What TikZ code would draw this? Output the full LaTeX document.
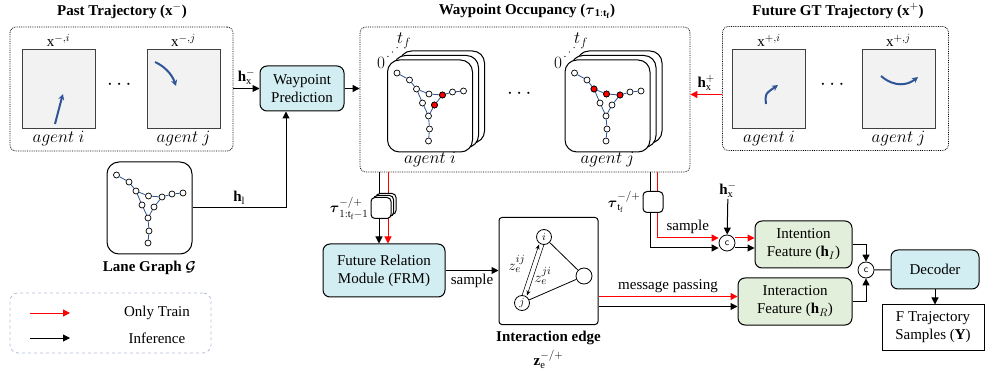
\documentclass[tikz,border=0pt]{standalone}
\usepackage{amsmath}
\usepackage{amssymb}
\usepackage{fontspec}
\setmainfont{Liberation Serif}
\usepackage{tikz}
\usetikzlibrary{arrows.meta,positioning,calc}

\definecolor{wpblue}{HTML}{D3EEF2}
\definecolor{featgreen}{HTML}{E2EFDA}
\definecolor{boxgray}{HTML}{F2F2F2}
\definecolor{laneblue}{HTML}{2F5597}
\definecolor{legline}{HTML}{B0BED8}

% waypoint graph: #1 name prefix, #2 centre
\newcommand{\lanegraph}[2]{%
  \foreach \n/\dx/\dy in {1/-33/-33, 2/-20.5/-26, 3/-13.5/-17, 4/-1/-12, 5/12.5/-11, 6/22.5/-14,
                          7/33.5/-15, 8/-7.5/-3, 9/4.5/-1, 10/-1.5/10, 11/-0.5/23, 12/-1.5/35}
    \node[wpt] (#1\n) at ($#2+(\dx,\dy)$) {};
  \foreach \a/\b in {1/2, 2/3, 3/4, 4/5, 5/6, 6/7, 3/8, 8/10, 5/9, 9/10, 10/11, 11/12}
    \draw[lnk] (#1\a) -- (#1\b);
}

\begin{document}
\begin{tikzpicture}[x=1pt, y=-1pt,
  font=\fontsize{15}{18}\selectfont,
  panel/.style={draw, densely dotted, rounded corners=6pt, line width=0.8pt, inner sep=0pt},
  sq/.style={draw=black!75, fill=boxgray, line width=1pt, minimum width=73pt, minimum height=79pt, inner sep=0pt},
  proc/.style={draw, line width=1pt, rounded corners=7pt, fill=wpblue, align=center, inner sep=0pt},
  feat/.style={proc, fill=featgreen},
  card/.style={draw, line width=1pt, rounded corners=12pt, fill=white, minimum width=85pt, minimum height=92pt, inner sep=0pt},
  mini/.style={draw, line width=1pt, rounded corners=4pt, fill=white, minimum width=20pt, minimum height=21pt, inner sep=0pt},
  cat/.style={draw, circle, fill=white, line width=0.8pt, minimum size=16pt, inner sep=0pt, font=\sffamily\fontsize{10}{10}\selectfont},
  agt/.style={draw, circle, line width=0.8pt, minimum size=15pt, inner sep=0pt, font=\fontsize{11}{11}\selectfont},
  wpt/.style={draw, circle, fill=white, line width=0.7pt, minimum size=6pt, inner sep=0pt},
  rwpt/.style={wpt, fill=red},
  lnk/.style={draw=laneblue, line width=0.8pt},
  traj/.style={draw=laneblue, line width=2pt, -{Stealth[length=6pt,width=6pt]}},
  arr/.style={-{Triangle[length=7pt,width=7pt]}, line width=1pt},
  rarr/.style={arr, red, every node/.append style={text=black}},
  thinarr/.style={-{Stealth[length=5pt,width=4pt]}, line width=0.6pt},
  ttl/.style={font=\fontsize{15}{18}\selectfont\bfseries},
  lab/.style={align=center, inner sep=1pt},
  alab/.style={lab, font=\fontsize{17}{18}\selectfont},
  dotrow/.style={font=\fontsize{22}{22}\selectfont}
]
\useasboundingbox (0,0) rectangle (985,371);

\node[ttl] (pastT) at (122,11) {Past Trajectory ($\mathbf{x}^{-}$)};
\node[ttl] (occT) at (527,11) {Waypoint Occupancy ($\boldsymbol{\tau}_{\mathbf{1:t_f}}$)};
\node[ttl] (futT) at (838,11) {Future GT Trajectory ($\mathbf{x}^{+}$)};

\node[panel, minimum width=223pt, minimum height=124pt] (past) at (121.5,89) {};
\node[panel, minimum width=330pt, minimum height=145pt] (occ) at (525,99.5) {};
\node[panel, minimum width=226pt, minimum height=124pt] (fut) at (835.5,88.5) {};

\node[sq] (pi) at (58.5,89.5) {};
\node[sq] (pj) at (183.5,89.5) {};
\node[sq] (fi) at (769,89.5) {};
\node[sq] (fj) at (898.5,89.5) {};
\node[lab, above=2pt of pi] (piT) {$\mathrm{x}^{-,i}$};
\node[lab, above=2pt of pj] (pjT) {$\mathrm{x}^{-,j}$};
\node[lab, above=2pt of fi] (fiT) {$\mathrm{x}^{+,i}$};
\node[lab, above=2pt of fj] (fjT) {$\mathrm{x}^{+,j}$};
\node[alab, below=0pt of pi] (piA) {$agent\ i$};
\node[alab, below=0pt of pj] (pjA) {$agent\ j$};
\node[alab, below=0pt of fi] (fiA) {$agent\ i$};
\node[alab, below=0pt of fj] (fjA) {$agent\ j$};
\node[dotrow] (pdots) at (121,85) {$\cdots$};
\node[dotrow] (fdots) at (834,85) {$\cdots$};
\node[dotrow] (odots) at (521,94) {$\cdots$};

\draw[traj] (55,124) .. controls (58,110) .. (63,94);
\draw[traj] (155,62) .. controls (164,66) and (172,74) .. (176,86);
\draw[traj] (766,104) .. controls (765,94) .. (778,85);
\draw[traj] (881,76) .. controls (895,88) and (908,85) .. (918,77);

\foreach \k in {2,1} \node[card] (oi\k) at ({430+6*\k},{106-4.5*\k}) {};
\node[card] (oi) at (430,106) {};
\foreach \k in {2,1} \node[card] (oj\k) at ({607.5+6*\k},{106-4.5*\k}) {};
\node[card] (oj) at (607.5,106) {};
\lanegraph{gi}{(430,106)}
\lanegraph{gj}{(607.5,106)}
\foreach \n in {5,9} \node[rwpt] (gir\n) at (gi\n) {};
\foreach \n in {3,4,5} \node[rwpt] (gjr\n) at (gj\n) {};
\node[alab] (oi0) at (381,63) {$0$};
\node[alab] (oitf) at (404,41) {$t_f$};
\node[alab] (oj0) at (558,63) {$0$};
\node[alab] (ojtf) at (581,41) {$t_f$};
\foreach \t in {0.3,0.5,0.7} {
  \fill ($(oi0)!\t!(oitf)$) circle (0.7);
  \fill ($(oj0)!\t!(ojtf)$) circle (0.7);
}
\node[alab] (oiA) at (430,160) {$agent\ i$};
\node[alab] (ojA) at (607.5,160) {$agent\ j$};

\node[proc, minimum width=84pt, minimum height=45pt] (wp) at (302,88.5) {Waypoint\\Prediction};
\node[card] (lane) at (149.5,208) {};
\lanegraph{gl}{(149.5,208)}
\node[ttl, below=3pt of lane] (laneT) {Lane Graph $\boldsymbol{\mathcal{G}}$};

\draw[arr] (past.east |- wp) -- (wp) node[midway, above] {$\mathbf{h}_{\mathrm{x}}^{-}$};
\draw[arr] (wp) -- (wp -| occ.west);
\draw[arr] (lane.east) -| ([xshift=-16pt]wp.south) node[pos=0.25, above] {$\mathbf{h}_{\mathrm{l}}$};
\draw[rarr] ([yshift=-6pt]fut.west) -- ([yshift=-6pt]fut.west -| occ.east) node[midway, above] {$\mathbf{h}_{\mathrm{x}}^{+}$};

\node[proc, minimum width=122pt, minimum height=53pt] (frm) at (384,270.5) {Future Relation\\Module (FRM)};
\coordinate (ql) at (379,0);
\coordinate (qr) at (388,0);
\draw[arr] (occ.south -| ql) -- (frm.north -| ql);
\draw[rarr] (occ.south -| qr) -- (frm.north -| qr);
\foreach \k in {2,1} \node[mini] (taul\k) at ({381+2.5*\k},{208-2*\k}) {};
\node[mini] (taul) at (381,208) {};
\node[lab, left=1pt of taul] (taulT) {$\boldsymbol{\tau}^{-/+}_{1:\mathrm{t_f}-1}$};

\node[draw, line width=1pt, rounded corners=3pt, minimum width=99pt, minimum height=107pt] (iedge) at (548.5,271) {};
\node[agt] (ni) at (544,237) {$i$};
\node[agt] (nj) at (522,303) {$j$};
\node[agt, minimum size=16pt] (nk) at (584,276) {};
\draw[line width=0.8pt] (ni) -- (nk);
\draw[line width=0.8pt] (nj) -- (nk);
\draw[thinarr, transform canvas={xshift=-2.5pt}] (nj) -- (ni);
\draw[thinarr, transform canvas={xshift=2.5pt}] (ni) -- (nj);
\node[lab] (zij) at (517,264) {$z_e^{ij}$};
\node[lab] (zji) at (543,276) {$z_e^{ji}$};
\node[ttl, below=3pt of iedge] (ieT) {Interaction edge};
\node[lab, below=0pt of ieT] (zeT) {$\mathbf{z}_{\mathrm{e}}^{-/+}$};
\draw[arr] (frm) -- (frm -| iedge.west) node[midway, below] {sample};

\node[cat] (cat1) at (727,243) {c};
\node[lab] (hxm) at (728,190) {$\mathbf{h}_{\mathrm{x}}^{-}$};
\node[feat, minimum width=97pt, minimum height=47pt] (intent) at (803.5,244.5) {Intention\\Feature ($\mathbf{h}_{I}$)};
\node[feat, minimum width=114pt, minimum height=47pt] (ifeat) at (795,301.5) {Interaction\\Feature ($\mathbf{h}_{R}$)};
\node[cat] (cat2) at (866,270) {c};
\node[proc, minimum width=88pt, minimum height=39pt] (dec) at (935,269.5) {Decoder};
\node[draw, line width=1pt, fill=white, align=center, minimum width=102pt, minimum height=45pt, inner sep=0pt] (ftraj) at (933,327.5) {F Trajectory\\Samples ($\mathbf{Y}$)};

\coordinate (pb) at (650,0);
\coordinate (pr) at (657,0);
\draw[rarr] (occ.south -| pr) |- ([yshift=5pt]cat1.west) node[pos=0.75, above] {sample};
\draw[arr] (occ.south -| pb) |- ([yshift=-5pt]cat1.west);
\node[mini] (taur) at (653,202) {};
\node[lab, left=1pt of taur] (taurT) {$\boldsymbol{\tau}^{-/+}_{\mathrm{t_f}}$};

\draw[arr] (hxm) -- (cat1);
\draw[rarr] ([yshift=5pt]cat1.east) -- ([yshift=5pt]cat1.east -| intent.west);
\draw[arr] ([yshift=-5pt]cat1.east) -- ([yshift=-5pt]cat1.east -| intent.west);
\draw[rarr] ([yshift=5pt]ifeat.west -| iedge.east) -- ([yshift=5pt]ifeat.west) node[midway, above] {message passing};
\draw[arr] ([yshift=-5pt]ifeat.west -| iedge.east) -- ([yshift=-5pt]ifeat.west);
\draw[arr] (intent.east) -| (cat2.north);
\draw[arr] (ifeat.east) -| (cat2.south);
\draw[line width=1pt] (cat2) -- (dec);
\draw[arr] (dec) -- (dec |- ftraj.north);

\node[draw=legline, dashed, rounded corners=8pt, line width=0.8pt, minimum width=201pt, minimum height=60pt] (leg) at (110.5,323) {};
\coordinate (la1) at (30,313);
\coordinate (la2) at (70,313);
\coordinate (lb1) at (30,338);
\coordinate (lb2) at (70,338);
\draw[rarr] (la1) -- (la2);
\draw[arr] (lb1) -- (lb2);
\node[lab] (legT) at (157,313) {Only Train};
\node[lab] (legI) at (157,338) {Inference};
\end{tikzpicture}
\end{document}
